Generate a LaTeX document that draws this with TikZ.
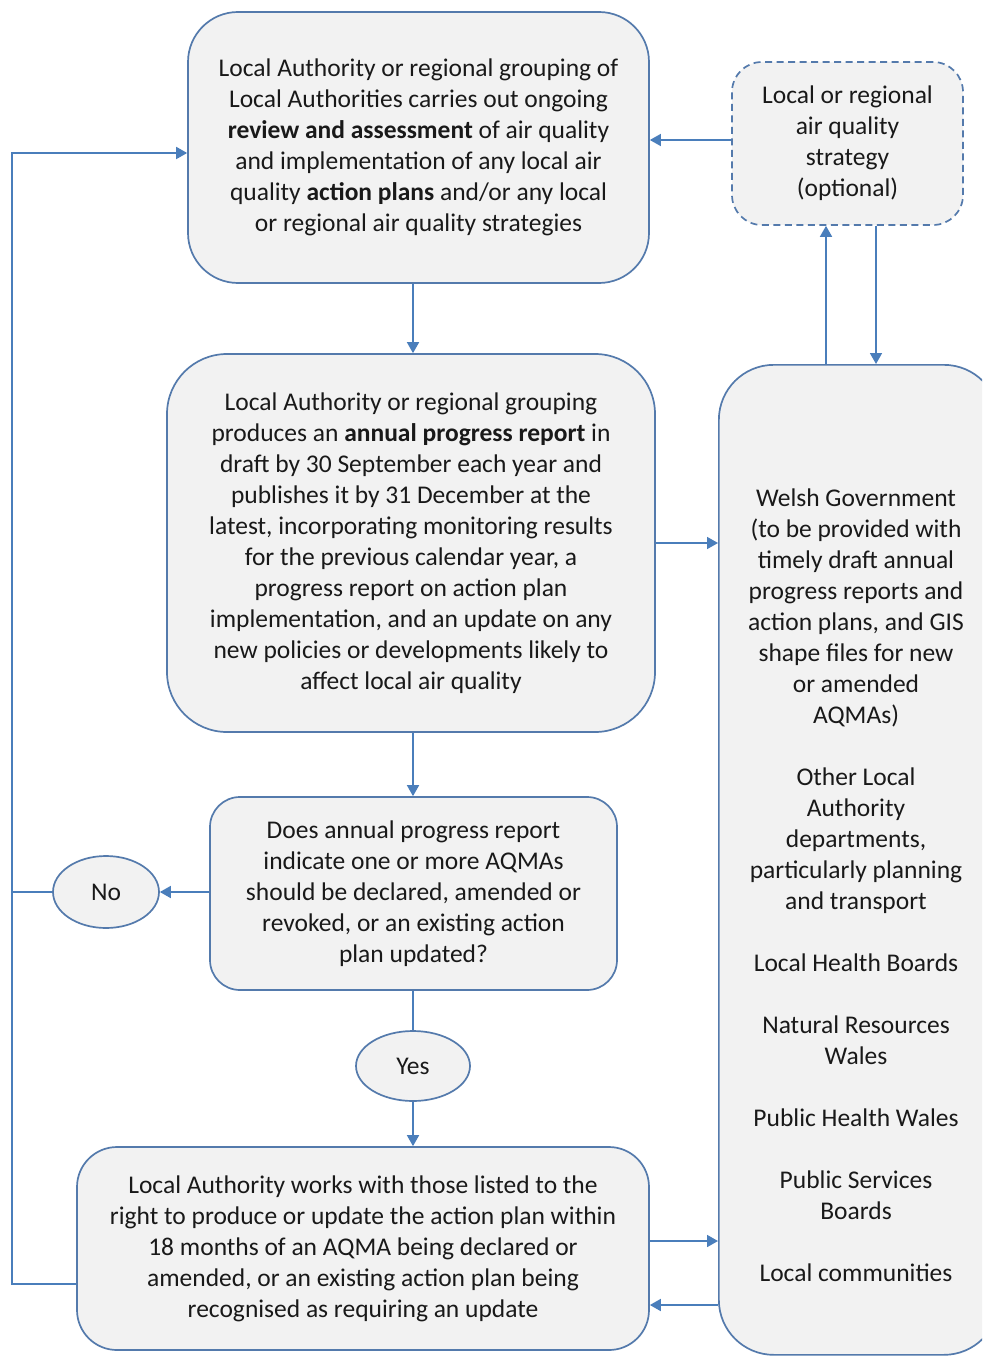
\documentclass[tikz,border=0pt]{standalone}
\usepackage{fontspec}
\setmainfont{Carlito}
\usetikzlibrary{arrows.meta,shapes.geometric,calc}
\definecolor{edge}{RGB}{84,122,172}
\definecolor{link}{RGB}{74,126,187}
\definecolor{boxfill}{RGB}{242,242,242}
\begin{document}
\begin{tikzpicture}[x=1pt,y=-1pt,
  every node/.style={font=\fontsize{25.5}{31}\selectfont, text=black!90},
  stepbox/.style={draw=edge, fill=boxfill, line width=1.7pt, align=center,
    inner sep=0pt, rectangle},
  oval/.style={draw=edge, fill=boxfill, line width=1.7pt, ellipse, inner sep=0pt},
  arr/.style={draw=link, line width=1.7pt, -{Triangle[length=11pt,width=12pt]}},
  ln/.style={draw=link, line width=1.7pt}]
\clip (0,0) rectangle (982,1356);
\fill[white] (0,0) rectangle (982,1356);

% main review box
\node[stepbox, minimum width=461pt, minimum height=271pt, rounded corners=50pt]
  (review) at (418.5,147.5)
  {Local Authority or regional grouping of\\
   Local Authorities carries out ongoing\\
   \textbf{review and assessment} of air quality\\
   and implementation of any local air\\
   quality \textbf{action plans} and/or any local\\
   or regional air quality strategies};

% optional strategy box
\node[stepbox, dash pattern=on 7pt off 4.5pt, minimum width=231pt, minimum height=163pt,
  rounded corners=30pt] (strategy) at (847.5,143.5)
  {Local or regional\\ air quality\\ strategy\\ (optional)};

% annual progress report
\node[stepbox, minimum width=488pt, minimum height=378pt, rounded corners=60pt]
  (report) at (411,543)
  {Local Authority or regional grouping\\
   produces an \textbf{annual progress report} in\\
   draft by 30 September each year and\\
   publishes it by 31 December at the\\
   latest, incorporating monitoring results\\
   for the previous calendar year, a\\
   progress report on action plan\\
   implementation, and an update on any\\
   new policies or developments likely to\\
   affect local air quality};

% decision
\node[stepbox, minimum width=407pt, minimum height=193pt, rounded corners=30pt]
  (decide) at (413.5,893.5)
  {Does annual progress report\\
   indicate one or more AQMAs\\
   should be declared, amended or\\
   revoked, or an existing action\\
   plan updated?};

% action plan box
\node[stepbox, minimum width=572pt, minimum height=203pt, rounded corners=40pt]
  (plan) at (363,1248.5)
  {Local Authority works with those listed to the\\
   right to produce or update the action plan within\\
   18 months of an AQMA being declared or\\
   amended, or an existing action plan being\\
   recognised as requiring an update};

% partners box (runs off the right edge)
\node[stepbox, minimum width=280pt, minimum height=990pt, rounded corners=55pt,
  anchor=north west] (partners) at (718,364) {};
\node[align=center] (partnerlist) at (856,885)
  {Welsh Government\\
   (to be provided with\\
   timely draft annual\\
   progress reports and\\
   action plans, and GIS\\
   shape files for new\\
   or amended\\
   AQMAs)\\[31pt]
   Other Local\\
   Authority\\
   departments,\\
   particularly planning\\
   and transport\\[31pt]
   Local Health Boards\\[31pt]
   Natural Resources\\
   Wales\\[31pt]
   Public Health Wales\\[31pt]
   Public Services\\
   Boards\\[31pt]
   Local communities};

% decision outcomes
\node[oval, minimum width=106pt, minimum height=72pt] (no) at (106,892) {No};
\node[oval, minimum width=114pt, minimum height=70pt] (yes) at (413,1066) {Yes};

% helper coordinates
\coordinate (midx) at (413,0);
\coordinate (loopx) at (12,0);
\coordinate (loopin) at (0,153);
\coordinate (loopout) at (0,1284);
\coordinate (upx) at (826,0);
\coordinate (downx) at (876,0);
\coordinate (stratin) at (0,140);
\coordinate (toright) at (0,1241);
\coordinate (fromright) at (0,1305);

% main flow
\draw[arr] (review.south -| midx) -- (report.north -| midx);
\draw[arr] (report.south -| midx) -- (decide.north -| midx);
\draw[ln] (decide.south -| midx) -- (yes.north);
\draw[arr] (yes.south) -- (plan.north -| midx);
\draw[arr] (decide.west |- no) -- (no.east);

% feedback loop to the review box
\draw[ln] (no.west) -- (no.west -| loopx);
\draw[arr] (plan.west |- loopout) -- (loopx |- loopout) -- (loopx |- loopin)
  -- (review.west |- loopin);

% strategy links
\draw[arr] (strategy.west |- stratin) -- (review.east |- stratin);
\draw[arr] (partners.north -| upx) -- (strategy.south -| upx);
\draw[arr] (strategy.south -| downx) -- (partners.north -| downx);

% partner links
\draw[arr] (report.east) -- (report.east -| partners.west);
\draw[arr] (plan.east |- toright) -- (partners.west |- toright);
\draw[arr] (partners.west |- fromright) -- (plan.east |- fromright);
\end{tikzpicture}
\end{document}
